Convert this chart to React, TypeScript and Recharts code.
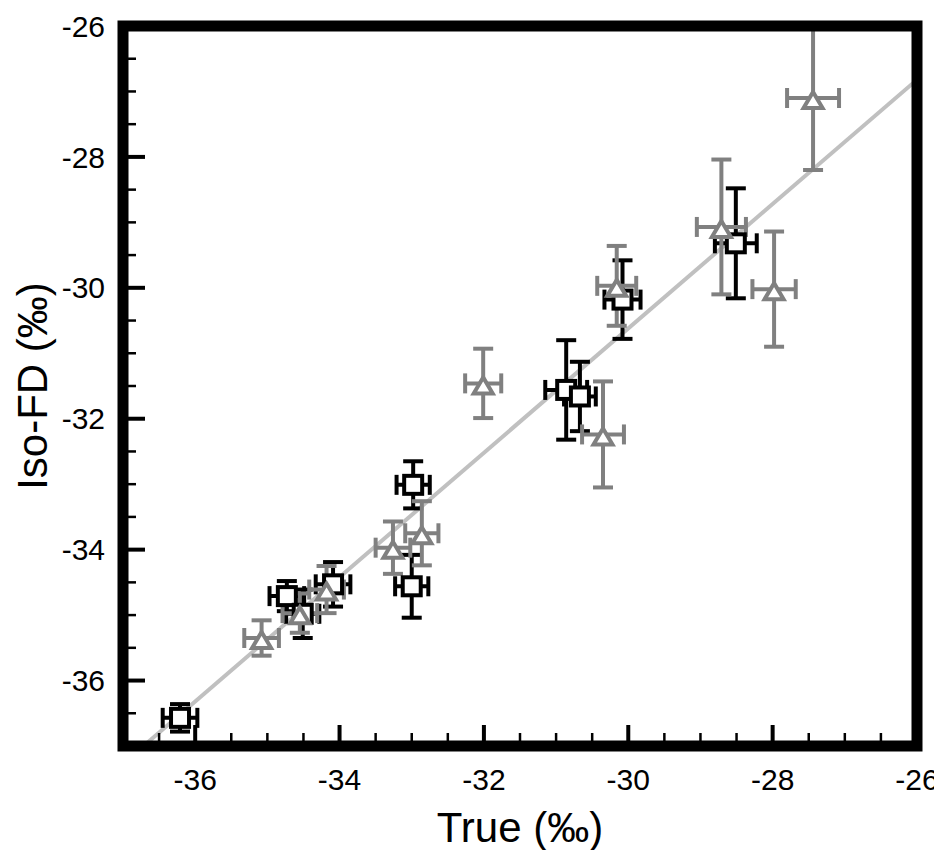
import { ScatterChart, Scatter, XAxis, YAxis, ErrorBar, ReferenceLine, ReferenceArea } from "recharts";

// open squares (black)
const squareX = [-36.21, -34.73, -34.51, -34.09, -32.98, -33.0, -30.86, -30.67, -30.08, -28.51];
const squareY = [-36.57, -34.71, -34.98, -34.53, -33.01, -34.56, -31.56, -31.66, -30.18, -29.32];
const squareXErr = [0.24, 0.24, 0.23, 0.24, 0.23, 0.23, 0.29, 0.22, 0.25, 0.29];
const squareYErr = [0.21, 0.23, 0.37, 0.34, 0.36, 0.48, 0.76, 0.53, 0.6, 0.84];

// open triangles (grey)
const triX = [-35.08, -34.55, -34.18, -33.26, -32.86, -32.01, -30.35, -30.16, -28.71, -27.98, -27.44];
const triY = [-35.35, -34.97, -34.61, -33.97, -33.75, -31.46, -32.24, -29.97, -29.07, -30.02, -27.1];
const triXErr = [0.24, 0.24, 0.24, 0.24, 0.23, 0.25, 0.29, 0.27, 0.34, 0.3, 0.36];
const triYErr = [0.27, 0.3, 0.36, 0.4, 0.49, 0.53, 0.81, 0.61, 1.03, 0.88, 1.1];

// regression line
const fitSlope = 0.95;
const fitIntercept = -2.12;

const domainMin = -37;
const domainMax = -26;
const majorTicks = [-36, -34, -32, -30, -28, -26];
const allTicks = Array.from({ length: 23 }, (_, i) => domainMin + i * 0.5);

const squares = squareX.map((x, i) => ({ x, y: squareY[i], xe: squareXErr[i], ye: squareYErr[i] }));
const triangles = triX.map((x, i) => ({ x, y: triY[i], xe: triXErr[i], ye: triYErr[i] }));
const fitSegment = [
  { x: domainMin, y: fitIntercept + fitSlope * domainMin },
  { x: domainMax, y: fitIntercept + fitSlope * domainMax },
];

const FONT = "'Liberation Sans', Arial, Helvetica, sans-serif";
const GREY = "#808080";

const isMajor = (v: number) => majorTicks.includes(v);

const XTick = ({ x, y, payload }: any) => {
  const major = isMajor(payload.value);
  return (
    <g>
      <line x1={x} x2={x} y1={y} y2={y - (major ? 21 : 13)} stroke="#000" strokeWidth={major ? 4 : 2.5} />
      {major && (
        <text x={x} y={y + 33} dy="0.355em" textAnchor="middle" fontSize={30} fontFamily={FONT} fill="#000">
          {payload.value}
        </text>
      )}
    </g>
  );
};

const YTick = ({ x, y, payload }: any) => {
  const major = isMajor(payload.value);
  return (
    <g>
      <line x1={x} x2={x + (major ? 22 : 13)} y1={y} y2={y} stroke="#000" strokeWidth={major ? 4 : 2.5} />
      {major && (
        <text x={x - 18} y={y} dy="0.355em" textAnchor="end" fontSize={30} fontFamily={FONT} fill="#000">
          {payload.value}
        </text>
      )}
    </g>
  );
};

const SquareMark = (p: any) => (
  <rect x={p.cx - 9} y={p.cy - 9} width={18} height={18} fill="#fff" stroke="#000" strokeWidth={4} />
);

const TriangleMark = (p: any) => (
  <path
    d={`M${p.cx},${p.cy - 6} L${p.cx + 9.5},${p.cy + 10} L${p.cx - 9.5},${p.cy + 10} Z`}
    fill="#fff"
    stroke={GREY}
    strokeWidth={4}
  />
);

export default function App() {
  return (
    <ScatterChart width={934} height={842} margin={{ top: 18, right: 25, bottom: 0, left: 0 }}>
      <XAxis
        type="number"
        dataKey="x"
        domain={[domainMin, domainMax]}
        allowDataOverflow
        ticks={allTicks}
        interval={0}
        tick={<XTick />}
        tickLine={false}
        axisLine={false}
        tickSize={0}
        tickMargin={0}
        height={104}
        label={{ value: "True (‰)", position: "insideBottom", offset: 8, fontSize: 42, fill: "#000", fontFamily: FONT }}
      />
      <YAxis
        type="number"
        dataKey="y"
        domain={[domainMin, domainMax]}
        allowDataOverflow
        ticks={allTicks}
        interval={0}
        tick={<YTick />}
        tickLine={false}
        axisLine={false}
        tickSize={0}
        tickMargin={0}
        width={115}
        label={{
          value: "Iso-FD (‰)",
          angle: -90,
          position: "insideLeft",
          offset: 24,
          fontSize: 42,
          fill: "#000",
          fontFamily: FONT,
          style: { textAnchor: "middle" },
        }}
      />
      <ReferenceLine segment={fitSegment} stroke="#c0c0c0" strokeWidth={4} ifOverflow="hidden" />
      <Scatter data={squares} shape={SquareMark} isAnimationActive={false}>
        <ErrorBar dataKey="ye" direction="y" width={10} strokeWidth={4} stroke="#000" />
        <ErrorBar dataKey="xe" direction="x" width={10} strokeWidth={4} stroke="#000" />
      </Scatter>
      <Scatter data={triangles} shape={TriangleMark} isAnimationActive={false}>
        <ErrorBar dataKey="ye" direction="y" width={10} strokeWidth={4} stroke={GREY} />
        <ErrorBar dataKey="xe" direction="x" width={10} strokeWidth={4} stroke={GREY} />
      </Scatter>
      <ReferenceArea
        x1={domainMin}
        x2={domainMax}
        y1={domainMin}
        y2={domainMax}
        fill="none"
        stroke="#000"
        strokeWidth={11}
        zIndex={1500}
      />
    </ScatterChart>
  );
}
